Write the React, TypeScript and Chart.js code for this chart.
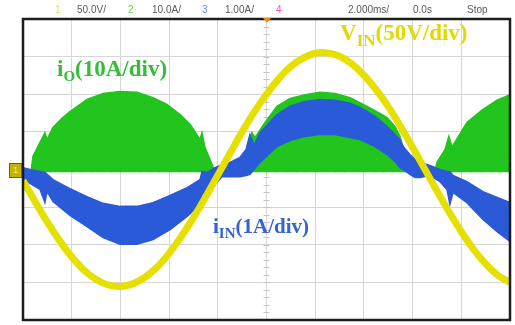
import React, { useEffect, useRef } from "react";
import { Chart, registerables } from "chart.js";

Chart.register(...registerables);

// ---- axis setup (oscilloscope screen: 10 x 2 ms, 8 vertical divisions) ----
const TIME_MIN = 0;
const TIME_MAX = 20;
const TIME_STEP = 2;
const DIV_MIN = -4;
const DIV_MAX = 4;
const CENTER_TIME = 10;

// ---- V_IN (yellow), in divisions of 50 V ----
const vinTime = [0, 0.5, 1, 1.5, 2, 2.5, 3, 3.5, 4, 4.5, 5, 5.5, 6, 6.5, 7, 7.5, 8, 8.5, 9, 9.5, 10, 10.5, 11, 11.5, 12, 12.5, 13, 13.5, 14, 14.5, 15, 15.5, 16, 16.5, 17, 17.5, 18, 18.5, 19, 19.5, 20];
const vinDiv = [-0.29, -0.86, -1.4, -1.89, -2.32, -2.67, -2.92, -3.07, -3.11, -3.04, -2.87, -2.6, -2.23, -1.78, -1.28, -0.73, -0.15, 0.43, 1.0, 1.53, 2.0, 2.41, 2.74, 2.96, 3.09, 3.1, 3.01, 2.81, 2.51, 2.12, 1.67, 1.15, 0.59, 0.01, -0.57, -1.13, -1.65, -2.12, -2.51, -2.81, -3.0];

// ---- i_O (green) envelope, three humps, in divisions of 10 A ----
const g1Time = [0.33, 0.41, 0.7, 0.9, 0.99, 1.23, 1.6, 1.93, 2.63, 3.29, 3.98, 4.68, 5.34, 5.91, 6.45, 6.86, 7.27, 7.35, 7.47, 7.8, 7.89];
const g1Top = [-0.05, 0.35, 0.72, 0.98, 0.8, 1.12, 1.36, 1.54, 1.86, 2.02, 2.07, 2.05, 1.91, 1.73, 1.46, 1.2, 0.8, 0.98, 0.59, 0.08, -0.05];
const g1Bottom = [-0.05, -0.05, -0.05, -0.05, -0.05, -0.05, -0.05, -0.05, -0.05, -0.05, -0.05, -0.05, -0.05, -0.05, -0.05, -0.05, -0.05, -0.05, -0.05, -0.05, -0.05];

const g2Time = [9.24, 9.32, 9.4, 9.53, 9.94, 10.43, 10.97, 11.58, 12.2, 12.81, 13.43, 14.05, 14.66, 14.95, 15.28, 15.48, 15.69, 15.81];
const g2Top = [-0.05, 0.8, 0.98, 0.85, 1.25, 1.68, 1.89, 1.99, 2.05, 2.02, 1.91, 1.7, 1.49, 1.38, 1.14, 0.88, 0.4, -0.05];
const g2Bottom = [-0.05, -0.05, -0.05, -0.05, -0.05, -0.05, -0.05, -0.05, -0.05, -0.05, -0.05, -0.05, -0.05, -0.05, -0.05, -0.05, -0.05, -0.05];

const g3Time = [16.92, 17.0, 17.33, 17.49, 17.62, 18.23, 18.89, 19.47, 20.0];
const g3Top = [-0.05, 0.19, 0.53, 0.88, 0.6, 1.25, 1.6, 1.84, 1.99];
const g3Bottom = [-0.05, -0.05, -0.05, -0.05, -0.05, -0.05, -0.05, -0.05, -0.05];

// ---- i_IN (blue) envelope, in divisions of 1 A ----
const blueTime = [0, 0.29, 0.7, 0.9, 0.99, 1.23, 1.93, 2.63, 3.29, 3.98, 4.68, 5.34, 6.04, 6.74, 7.27, 7.35, 7.56, 7.89, 8.17, 8.5, 8.91, 9.16, 9.32, 9.49, 9.73, 10.43, 10.97, 11.58, 12.2, 12.81, 13.43, 13.84, 14.46, 14.95, 15.28, 15.48, 15.61, 15.89, 16.1, 16.3, 16.71, 17.12, 17.41, 17.53, 17.66, 18.23, 18.89, 19.47, 20.0];
const blueTop = [0.05, 0.0, -0.05, -0.08, -0.13, -0.27, -0.51, -0.72, -0.9, -0.98, -0.98, -0.88, -0.69, -0.48, -0.27, -0.05, -0.08, 0.05, 0.13, 0.19, 0.32, 0.53, 0.93, 0.64, 0.98, 1.46, 1.68, 1.81, 1.86, 1.84, 1.76, 1.65, 1.41, 1.14, 0.93, 0.8, 0.61, 0.4, 0.27, 0.19, 0.11, 0.0, -0.05, -0.05, -0.16, -0.32, -0.59, -0.74, -0.88];
const blueBottom = [-0.27, -0.37, -0.53, -0.88, -0.59, -0.85, -1.22, -1.52, -1.81, -1.99, -1.99, -1.86, -1.6, -1.25, -0.93, -0.66, -0.72, -0.4, -0.19, -0.19, -0.19, -0.16, -0.13, 0.0, 0.19, 0.61, 0.77, 0.88, 0.93, 0.93, 0.85, 0.8, 0.61, 0.4, 0.21, 0.05, 0.0, -0.13, -0.21, -0.21, -0.16, -0.32, -0.53, -0.93, -0.61, -0.88, -1.33, -1.65, -1.91];

// ---- header texts ----
const headerItems = [
  { text: "1", left: 55, color: "#e2dc5a" },
  { text: "50.0V/", left: 77, color: "#5a5a5a" },
  { text: "2", left: 128, color: "#5cd85c" },
  { text: "10.0A/", left: 152, color: "#5a5a5a" },
  { text: "3", left: 202, color: "#6a8ee8" },
  { text: "1.00A/", left: 225, color: "#5a5a5a" },
  { text: "4", left: 276, color: "#ee4fae" },
  { text: "2.000ms/", left: 348, color: "#5a5a5a" },
  { text: "0.0s", left: 413, color: "#5a5a5a" },
  { text: "Stop", left: 467, color: "#5a5a5a" },
];

const YELLOW = "#e6e000";
const GREEN = "#22c41e";
const BLUE = "#2b5ad8";

const pts = (xs: number[], ys: number[]) => xs.map((x, i) => ({ x, y: ys[i] }));

const scopeDecor = {
  id: "scopeDecor",
  beforeDatasetsDraw(chart: any) {
    const { ctx, scales } = chart;
    const cx = scales.x.getPixelForValue(CENTER_TIME);
    const cy = scales.y.getPixelForValue(0);
    ctx.save();
    ctx.strokeStyle = "#c4c4c4";
    ctx.lineWidth = 1;
    ctx.beginPath();
    for (let k = 0; k <= 40; k++) {
      const y = Math.round(scales.y.getPixelForValue(DIV_MIN + k * 0.2)) + 0.5;
      ctx.moveTo(cx - 3, y);
      ctx.lineTo(cx + 3, y);
    }
    for (let k = 0; k <= 50; k++) {
      const x = Math.round(scales.x.getPixelForValue(TIME_MIN + k * 0.4)) + 0.5;
      ctx.moveTo(x, cy - 3);
      ctx.lineTo(x, cy + 3);
    }
    ctx.stroke();
    ctx.restore();
  },
  afterDatasetsDraw(chart: any) {
    const { ctx, chartArea: a } = chart;
    ctx.save();
    ctx.strokeStyle = "#1c1c1c";
    ctx.lineWidth = 2.5;
    ctx.strokeRect(a.left, a.top, a.right - a.left, a.bottom - a.top);
    ctx.restore();
  },
};

function ScopeChart() {
  const ref = useRef<HTMLCanvasElement | null>(null);
  useEffect(() => {
    if (!ref.current) return;
    const band = (xs: number[], top: number[], bottom: number[], color: string, order: number) => [
      {
        label: "top",
        data: pts(xs, top),
        borderColor: color,
        backgroundColor: color,
        borderWidth: 1.5,
        pointRadius: 0,
        fill: "+1",
        order,
        tension: 0,
      },
      {
        label: "bottom",
        data: pts(xs, bottom),
        borderColor: color,
        backgroundColor: color,
        borderWidth: 1.5,
        pointRadius: 0,
        fill: false,
        order,
        tension: 0,
      },
    ];
    const chart = new Chart(ref.current, {
      type: "line",
      data: {
        datasets: [
          {
            label: "VIN",
            data: pts(vinTime, vinDiv),
            borderColor: YELLOW,
            borderWidth: 7,
            pointRadius: 0,
            fill: false,
            tension: 0.4,
            order: 1,
          },
          ...band(blueTime, blueTop, blueBottom, BLUE, 2),
          ...band(g1Time, g1Top, g1Bottom, GREEN, 3),
          ...band(g2Time, g2Top, g2Bottom, GREEN, 3),
          ...band(g3Time, g3Top, g3Bottom, GREEN, 3),
        ] as any,
      },
      options: {
        animation: false,
        responsive: false,
        devicePixelRatio: 1,
        layout: { padding: { left: 23, right: 5, top: 19, bottom: 5 } },
        plugins: { legend: { display: false }, tooltip: { enabled: false } },
        scales: {
          x: {
            type: "linear",
            min: TIME_MIN,
            max: TIME_MAX,
            ticks: { display: false, stepSize: TIME_STEP },
            grid: { color: "#d6d6d6", lineWidth: 1, drawTicks: false },
            border: { display: false },
          },
          y: {
            type: "linear",
            min: DIV_MIN,
            max: DIV_MAX,
            ticks: { display: false, stepSize: 1 },
            grid: { color: "#d6d6d6", lineWidth: 1, drawTicks: false },
            border: { display: false },
          },
        },
      },
      plugins: [scopeDecor],
    });
    return () => chart.destroy();
  }, []);
  return <canvas ref={ref} width={515} height={325} style={{ position: "absolute", left: 0, top: 0, width: 515, height: 325 }} />;
}

export default function App() {
  useEffect(() => {
    document.body.style.margin = "0";
  }, []);
  const serif = "'Liberation Serif', 'Times New Roman', serif";
  return (
    <div style={{ position: "relative", width: 515, height: 325, background: "#fff", overflow: "hidden" }}>
      <ScopeChart />
      {headerItems.map((h, i) => (
        <span
          key={i}
          style={{ position: "absolute", left: h.left, top: 4, fontFamily: "'Liberation Sans', Arial, sans-serif", fontSize: 10, lineHeight: "12px", color: h.color, whiteSpace: "nowrap" }}
        >
          {h.text}
        </span>
      ))}
      <div style={{ position: "absolute", left: 263, top: 18, width: 0, height: 0, borderLeft: "4px solid transparent", borderRight: "4px solid transparent", borderTop: "5px solid #f08a24" }} />
      <div style={{ position: "absolute", left: 9, top: 163, width: 13, height: 15, background: "#c2b400", border: "1px solid #6a6000", boxSizing: "border-box", fontFamily: "'Liberation Sans', sans-serif", fontSize: 9, lineHeight: "13px", color: "#f4ec70", textAlign: "center" }}>1</div>
      <span style={{ position: "absolute", left: 340, top: 21, fontFamily: serif, fontWeight: "bold", fontSize: 23, lineHeight: "23px", color: "#e3d800", whiteSpace: "nowrap" }}>
        V<span style={{ fontSize: 17, position: "relative", top: 6 }}>IN</span>(50V/div)
      </span>
      <span style={{ position: "absolute", left: 57, top: 57, fontFamily: serif, fontWeight: "bold", fontSize: 23, lineHeight: "23px", color: "#35bd35", whiteSpace: "nowrap" }}>
        i<span style={{ fontSize: 15, position: "relative", top: 5 }}>O</span>(10A/div)
      </span>
      <span style={{ position: "absolute", left: 213, top: 216, fontFamily: serif, fontWeight: "bold", fontSize: 21, lineHeight: "21px", color: "#3463d0", whiteSpace: "nowrap" }}>
        i<span style={{ fontSize: 15, position: "relative", top: 5 }}>IN</span>(1A/div)
      </span>
    </div>
  );
}
